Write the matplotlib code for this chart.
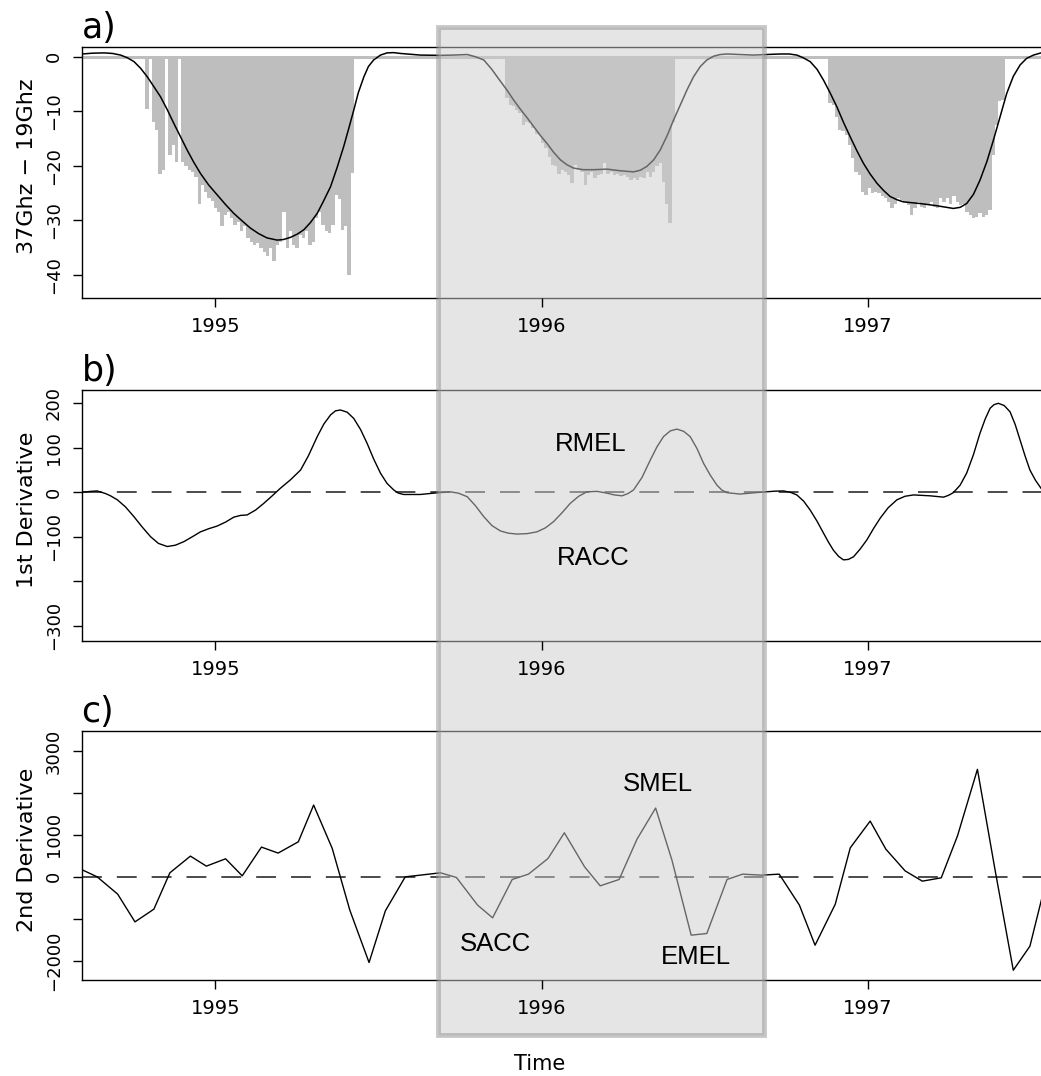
import numpy as np
import matplotlib.pyplot as plt
from matplotlib.patches import Rectangle
from matplotlib.transforms import blended_transform_factory

plt.rcParams['font.family'] = ['DejaVu Sans']

# panel a: daily 37GHz - 19GHz bars (one bar every BAR_STEP years) per winter
BAR_STEP = 0.01
winter_starts = [1994.790, 1995.894, 1996.885]
winter_1 = [-9.5, 0, -11.9, -13.4, -21.4, -20.8, 0, -18.0, -16.2, -19.2,
            0, -19.2, -20.1, -20.8, -21.1, -22.0, -26.9, -23.5, -24.7, -25.9,
            -26.5, -27.8, -28.4, -31.1, -29.0, -28.4, -29.6, -30.8, -30.2, -32.0,
            -31.1, -33.3, -33.9, -34.5, -34.2, -35.1, -35.7, -36.6, -35.1, -37.5,
            -34.5, -33.9, -28.4, -35.1, -32.0, -34.5, -35.1, -32.7, -33.3, -32.0,
            -34.5, -33.9, -29.6, -28.4, -30.8, -32.0, -32.3, -30.8, -25.3, -26.0,
            -31.7, -31.1, -40.0, -21.3]
winter_2 = [-7.6, -8.8, -9.1, -9.8, -10.4, -12.5, -11.9, -12.2, -13.1, -14.1,
            -14.4, -15.9, -16.8, -18.3, -19.8, -20.1, -21.4, -20.8, -21.1, -21.6,
            -23.2, -19.8, -20.8, -21.1, -23.5, -21.6, -21.1, -22.3, -21.6, -21.4,
            -19.5, -21.4, -21.1, -21.6, -21.4, -21.9, -21.6, -22.0, -22.6, -22.3,
            -22.6, -22.0, -22.3, -21.1, -22.0, -21.1, -20.1, -19.5, -23.0, -27.0,
            -30.5, -12.0]
winter_3 = [-8.5, -8.9, -11.0, -13.4, -13.7, -14.3, -16.2, -18.6, -21.1, -21.7,
            -24.7, -25.3, -24.1, -25.0, -24.7, -25.0, -25.6, -25.9, -26.6, -27.8,
            -26.9, -25.9, -26.3, -26.6, -27.2, -29.0, -27.8, -26.6, -27.5, -27.8,
            -27.2, -26.6, -27.5, -27.8, -25.9, -26.6, -25.9, -26.9, -25.6, -26.6,
            -27.2, -26.9, -28.5, -29.0, -29.6, -29.3, -28.7, -29.3, -29.0, -28.0,
            -18.0, -12.5, -8.2, -8.0]

# panel a: smoothed curve
smooth_year = [1994.591, 1994.623, 1994.658, 1994.684, 1994.709, 1994.730, 1994.750,
               1994.770, 1994.791, 1994.810, 1994.831, 1994.852, 1994.872, 1994.893,
               1994.913, 1994.933, 1994.954, 1994.979, 1995.005, 1995.031, 1995.056,
               1995.082, 1995.107, 1995.132, 1995.158, 1995.189, 1995.208, 1995.230,
               1995.251, 1995.271, 1995.291, 1995.312, 1995.331, 1995.353, 1995.373,
               1995.393, 1995.408, 1995.424, 1995.438, 1995.455, 1995.469, 1995.485,
               1995.506, 1995.526, 1995.546, 1995.567, 1995.628, 1995.690, 1995.730,
               1995.772, 1995.797, 1995.823, 1995.846, 1995.874, 1995.895, 1995.914,
               1995.935, 1995.956, 1995.976, 1995.996, 1996.017, 1996.037, 1996.058,
               1996.078, 1996.098, 1996.128, 1996.160, 1996.201, 1996.242, 1996.282,
               1996.303, 1996.323, 1996.344, 1996.364, 1996.385, 1996.405, 1996.426,
               1996.446, 1996.466, 1996.487, 1996.507, 1996.528, 1996.548, 1996.569,
               1996.609, 1996.650, 1996.689, 1996.732, 1996.760, 1996.783, 1996.803,
               1996.824, 1996.845, 1996.865, 1996.885, 1996.906, 1996.926, 1996.947,
               1996.967, 1996.987, 1997.008, 1997.029, 1997.049, 1997.069, 1997.090,
               1997.110, 1997.161, 1997.212, 1997.263, 1997.284, 1997.304, 1997.325,
               1997.345, 1997.366, 1997.386, 1997.407, 1997.427, 1997.447, 1997.468,
               1997.488, 1997.509, 1997.532]
smooth_val = [0.5, 0.65, 0.7, 0.6, 0.3, -0.2, -0.9,
              -2.1, -3.7, -5.4, -7.3, -9.7, -12.2, -14.7,
              -17.1, -19.3, -21.4, -23.5, -25.3, -27.1, -28.7,
              -30.1, -31.4, -32.4, -33.2, -33.6, -33.5, -33.1,
              -32.5, -31.7, -30.4, -28.7, -26.5, -23.8, -20.3,
              -16.5, -13.3, -9.8, -6.6, -3.7, -1.8, -0.6,
              0.3, 0.7, 0.75, 0.6, 0.3, 0.25, 0.3,
              0.4, 0.0, -0.6, -2.2, -4.5, -6.2, -7.9,
              -9.6, -11.2, -12.8, -14.4, -15.9, -17.5, -18.9,
              -19.8, -20.4, -20.7, -20.7, -20.6, -20.9, -21.1,
              -20.8, -20.1, -18.9, -17.1, -14.5, -11.6, -8.8,
              -6.1, -3.7, -1.8, -0.6, 0.1, 0.4, 0.5,
              0.4, 0.3, 0.4, 0.5, 0.5, 0.3, -0.2,
              -0.9, -2.3, -4.3, -6.6, -9.2, -12.0, -14.7,
              -17.2, -19.5, -21.5, -23.2, -24.5, -25.6, -26.2,
              -26.6, -26.9, -27.3, -27.8, -27.6, -26.9, -25.2,
              -22.6, -19.2, -15.3, -10.9, -6.7, -3.6, -1.5,
              -0.3, 0.3, 0.7]

# panel b: first derivative
d1_year = [1994.591, 1994.617, 1994.637, 1994.663, 1994.678, 1994.699, 1994.724,
           1994.750, 1994.775, 1994.801, 1994.825, 1994.852, 1994.877, 1994.903,
           1994.929, 1994.954, 1994.979, 1995.005, 1995.031, 1995.056, 1995.077,
           1995.097, 1995.123, 1995.148, 1995.174, 1995.199, 1995.230, 1995.261,
           1995.285, 1995.312, 1995.332, 1995.353, 1995.368, 1995.383, 1995.404,
           1995.424, 1995.445, 1995.465, 1995.485, 1995.506, 1995.526, 1995.547,
           1995.561, 1995.577, 1995.628, 1995.669, 1995.720, 1995.745, 1995.772,
           1995.797, 1995.823, 1995.848, 1995.874, 1995.898, 1995.925, 1995.956,
           1995.986, 1996.012, 1996.037, 1996.063, 1996.088, 1996.114, 1996.139,
           1996.170, 1996.201, 1996.223, 1996.247, 1996.265, 1996.282, 1996.308,
           1996.334, 1996.354, 1996.374, 1996.395, 1996.415, 1996.436, 1996.456,
           1996.477, 1996.497, 1996.518, 1996.538, 1996.553, 1996.569, 1996.609,
           1996.671, 1996.717, 1996.742, 1996.763, 1996.783, 1996.804, 1996.824,
           1996.845, 1996.865, 1996.880, 1996.895, 1996.911, 1996.926, 1996.941,
           1996.957, 1996.977, 1996.998, 1997.018, 1997.039, 1997.063, 1997.090,
           1997.115, 1997.141, 1997.192, 1997.233, 1997.248, 1997.263, 1997.284,
           1997.304, 1997.325, 1997.345, 1997.361, 1997.376, 1997.388, 1997.401,
           1997.419, 1997.437, 1997.453, 1997.468, 1997.483, 1997.498, 1997.515,
           1997.532]
d1_val = [0, 2, 3, -3, -8, -17, -33,
          -55, -78, -100, -115, -122, -119, -111,
          -100, -89, -82, -76, -67, -56, -52,
          -51, -40, -25, -8, 9, 28, 50,
          82, 125, 153, 174, 183, 185, 180,
          166, 141, 110, 75, 43, 20, 5,
          -2, -5, -5, -2, 1, -2, -10,
          -30, -55, -75, -87, -92, -94, -93,
          -89, -80, -66, -46, -25, -9, 1,
          2, -2, -6, -8, -3, 5, 33,
          73, 102, 125, 138, 142, 137, 125,
          98, 65, 38, 16, 5, -1, -4,
          0, 2.5, 3, 0, -6, -20, -40,
          -65, -92, -112, -130, -144, -152, -151,
          -145, -128, -107, -82, -58, -35, -17,
          -9, -6, -8, -11, -7, -1, 16,
          43, 85, 133, 165, 189, 197, 200,
          195, 181, 152, 117, 82, 50, 27,
          9]

# panel c: second derivative
d2_year = [1994.593, 1994.637, 1994.700, 1994.753, 1994.811, 1994.860, 1994.923,
           1994.972, 1995.031, 1995.082, 1995.141, 1995.192, 1995.254, 1995.301,
           1995.358, 1995.412, 1995.471, 1995.521, 1995.582, 1995.628, 1995.690,
           1995.739, 1995.804, 1995.850, 1995.910, 1995.960, 1996.020, 1996.070,
           1996.132, 1996.180, 1996.238, 1996.293, 1996.350, 1996.400, 1996.459,
           1996.507, 1996.569, 1996.617, 1996.675, 1996.729, 1996.791, 1996.839,
           1996.901, 1996.947, 1997.008, 1997.056, 1997.115, 1997.168, 1997.226,
           1997.276, 1997.337, 1997.391, 1997.447, 1997.498, 1997.554]
d2_val = [160, 0, -413, -1074, -771, 95, 494,
          255, 430, 24, 709, 566, 835, 1711,
          678, -795, -2043, -811, 0, 40, 96,
          -15, -675, -978, -63, 64, 438, 1050,
          239, -215, -63, 900, 1640, 398, -1391,
          -1351, -63, 64, 40, 64, -675, -1630,
          -652, 692, 1329, 661, 143, -103, -24,
          979, 2563, 168, -2227, -1654, 100]

labels_b = [("RMEL", 1996.152, 108), ("RACC", 1996.158, -147)]
labels_c = [("SMEL", 1996.358, 2212), ("SACC", 1995.858, -1606),
            ("EMEL", 1996.474, -1909)]

season = (1995.682, 1996.683)
year_ticks = [1995, 1996, 1997]
MINUS = "\u2212"

W, H = 1041, 1076
XLIM = (1994.589, 1997.532)
LEFT = 81.5

fig = plt.figure(figsize=(W / 100, H / 100), dpi=100)


def make_panel(top, bottom, ylim, yticks, ylabels, ylabel, tag):
    pos = [LEFT / W, 1 - bottom / H, (W - LEFT) / W, (bottom - top) / H]
    ax = fig.add_axes(pos, zorder=0)
    ax.set_xlim(*XLIM)
    ax.set_ylim(*ylim)
    ax.set_xticks([])
    ax.set_yticks([])
    ax.spines['right'].set_visible(False)
    for s in ('left', 'top', 'bottom'):
        ax.spines[s].set_linewidth(1.0)

    # ticks, labels and texts sit above the shaded season box
    axt = fig.add_axes(pos, zorder=3)
    axt.set_xlim(*XLIM)
    axt.set_ylim(*ylim)
    axt.patch.set_visible(False)
    for s in axt.spines.values():
        s.set_visible(False)
    axt.set_xticks(year_ticks, [str(y) for y in year_ticks])
    axt.set_yticks(yticks, ylabels)
    axt.tick_params(direction='out', length=6.5, width=1.0)
    axt.tick_params(axis='x', labelsize=14, pad=7)
    axt.tick_params(axis='y', labelsize=13, pad=7, labelrotation=90)
    for t in axt.get_yticklabels():
        t.set_va('center')
    axt.set_ylabel(ylabel, fontsize=16)
    axt.yaxis.set_label_coords(-0.046, 0.524)
    axt.text(0.0, 1 + 9 / (bottom - top), tag, transform=axt.transAxes,
             fontsize=25, ha='left', va='baseline')
    return ax, axt


# panel a
ax_a, axt_a = make_panel(47, 298, (-44.21, 1.78), [0, -10, -20, -30, -40],
                         ["0", MINUS + "10", MINUS + "20", MINUS + "30", MINUS + "40"],
                         "37Ghz " + MINUS + " 19Ghz", "a)")
ax_a.axhline(0, color='#bebebe', lw=2.2, zorder=1)
for start, vals in zip(winter_starts, [winter_1, winter_2, winter_3]):
    x = start + BAR_STEP * np.arange(len(vals))
    ax_a.bar(x, vals, width=BAR_STEP * 1.04, color='#bebebe', linewidth=0, zorder=2)
ax_a.plot(smooth_year, smooth_val, color='black', lw=1.1, zorder=3)

# panel b
ax_b, axt_b = make_panel(390, 641, (-334.4, 229.9), [200, 100, 0, -100, -200, -300],
                         ["200", "100", "0", MINUS + "100", "", MINUS + "300"],
                         "1st Derivative", "b)")
ax_b.axhline(0, color='#1a1a1a', lw=1.1, linestyle=(0, (13, 9.8)))
ax_b.plot(d1_year, d1_val, color='black', lw=1.0)
for name, x, y in labels_b:
    axt_b.text(x, y, name, fontsize=18.5, family='Liberation Sans',
               ha='center', va='center')

# panel c
ax_c, axt_c = make_panel(731, 980, (-2460, 3477), [3000, 2000, 1000, 0, -1000, -2000],
                         ["3000", "", "1000", "0", "", MINUS + "2000"],
                         "2nd Derivative", "c)")
ax_c.axhline(0, color='#1a1a1a', lw=1.1, linestyle=(0, (13, 9.8)))
ax_c.plot(d2_year, d2_val, color='black', lw=1.0)
for name, x, y in labels_c:
    axt_c.text(x, y, name, fontsize=18.5, family='Liberation Sans',
               ha='center', va='center')

# shaded season box across all three panels
trans = blended_transform_factory(ax_c.transData, fig.transFigure)
y0, y1 = 1 - 1035 / H, 1 - 27 / H
box = Rectangle((season[0], y0), season[1] - season[0], y1 - y0, transform=trans,
                facecolor=(0.8, 0.8, 0.8, 0.5), edgecolor=(0.57, 0.57, 0.57, 0.5),
                linewidth=3.5, zorder=1, clip_on=False)
fig.add_artist(box)

fig.text(540 / W, 1 - 1064 / H, "Time", fontsize=15, ha='center', va='center')

fig.savefig("out.png", dpi=100)
